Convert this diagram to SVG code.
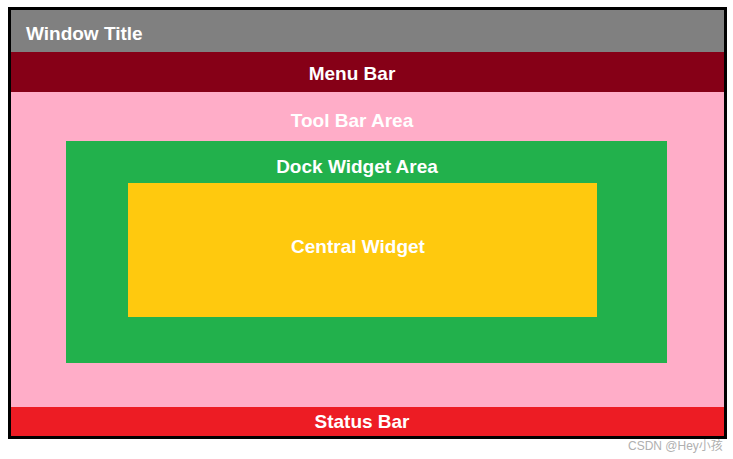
<svg xmlns="http://www.w3.org/2000/svg" width="733" height="459" viewBox="0 0 733 459">
<style>
.lbl{font-family:"Liberation Sans",Arial,sans-serif;font-weight:bold;font-size:19px;fill:#ffffff;text-anchor:middle}
.wm{font-family:"Liberation Sans","Noto Sans CJK SC",sans-serif;font-size:12px;fill:#b0b0b0}
</style>
<rect x="0" y="0" width="733" height="459" fill="#ffffff"/>
<g id="window">
<rect x="9.5" y="8.5" width="716" height="429" fill="#ffadc8" stroke="#000000" stroke-width="3"/>
</g>
<g id="title">
<rect x="11" y="10" width="713" height="42" fill="#808080"/>
<text x="26" y="40" class="lbl" style="text-anchor:start">Window Title</text>
</g>
<g id="menubar">
<rect x="11" y="52" width="713" height="40" fill="#860017"/>
<text x="352" y="80" class="lbl">Menu Bar</text>
</g>
<g id="toolbar">
<text x="352" y="127" class="lbl">Tool Bar Area</text>
</g>
<g id="dock">
<rect x="66" y="141" width="601" height="222" fill="#22b14c"/>
<text x="357" y="173" class="lbl">Dock Widget Area</text>
</g>
<g id="central">
<rect x="128" y="183" width="469" height="134" fill="#ffc90e"/>
<text x="358" y="253" class="lbl">Central Widget</text>
</g>
<g id="statusbar">
<rect x="11" y="407" width="713" height="29" fill="#ed1c24"/>
<text x="362" y="428" class="lbl">Status Bar</text>
</g>
<g id="connectors"></g>
<text x="628" y="450" class="wm">CSDN @Hey小孩</text>
</svg>
